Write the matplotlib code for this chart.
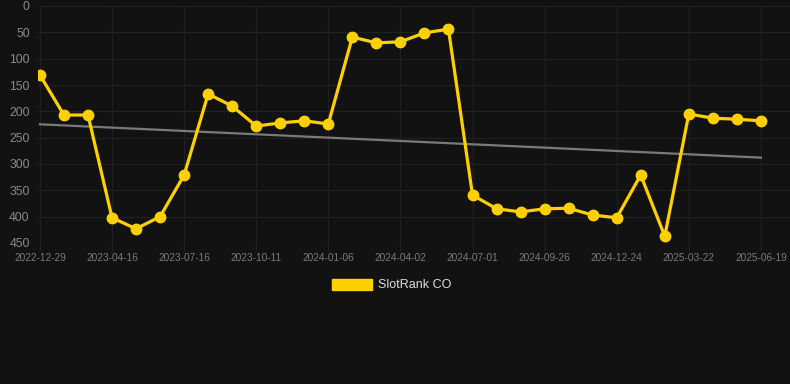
import numpy as np
import matplotlib
matplotlib.use("Agg")
import matplotlib.pyplot as plt
from matplotlib.patches import Patch

plt.rcParams['font.family'] = ['Liberation Sans', 'DejaVu Sans']

tick_labels = ["2022-12-29", "2023-04-16", "2023-07-16", "2023-10-11", "2024-01-06",
               "2024-04-02", "2024-07-01", "2024-09-26", "2024-12-24", "2025-03-22",
               "2025-06-19"]
ranks = [131, 207, 207, 402, 423, 400, 321, 167, 190, 228, 222, 218, 224,
         59, 70, 68, 51, 44, 359, 385, 391, 385, 384, 397, 402, 321, 437,
         205, 213, 215, 218]
series_name = "SlotRank CO"

BG = "#121212"
YELLOW = "#FFD000"
GRID = "#202020"

fig = plt.figure(figsize=(7.9, 3.84), dpi=100, facecolor=BG)
ax = fig.add_axes([38/790, 1-243/384, 1-38/790, (243-6)/384], facecolor=BG)

x = np.arange(len(ranks))
coef = np.polyfit(x, ranks, 1)
ax.plot(x, np.polyval(coef, x), color="#7a7a7a", lw=1.6, zorder=2)
ax.plot(x, ranks, color=YELLOW, lw=2.3, marker="o", ms=7.5, zorder=3)

ax.set_ylim(450, 0)
ax.set_yticks(np.arange(0, 451, 50))
step = 3
ax.set_xticks(x[::step])
ax.set_xticklabels(tick_labels)
ax.set_xlim(-0.08, (790-40)/24.03)

ax.grid(True, color=GRID, lw=0.9)
ax.set_axisbelow(True)
for s in ax.spines.values():
    s.set_visible(False)
ax.tick_params(axis="y", colors="#8a8a8a", labelsize=8.8, length=0, pad=6)
ax.tick_params(axis="x", colors=GRID, labelcolor="#7a7a7a", labelsize=7.3,
               length=6, width=0.9, pad=1)

handle = Patch(facecolor=YELLOW, edgecolor=YELLOW)
fig.legend([handle], [series_name], loc="center", bbox_to_anchor=(392/790, 1-285/384),
           frameon=False, fontsize=9, labelcolor="#dddddd", handlelength=3.2,
           handleheight=1.0, handletextpad=0.5)

fig.savefig("out.png", dpi=100, facecolor=BG)
